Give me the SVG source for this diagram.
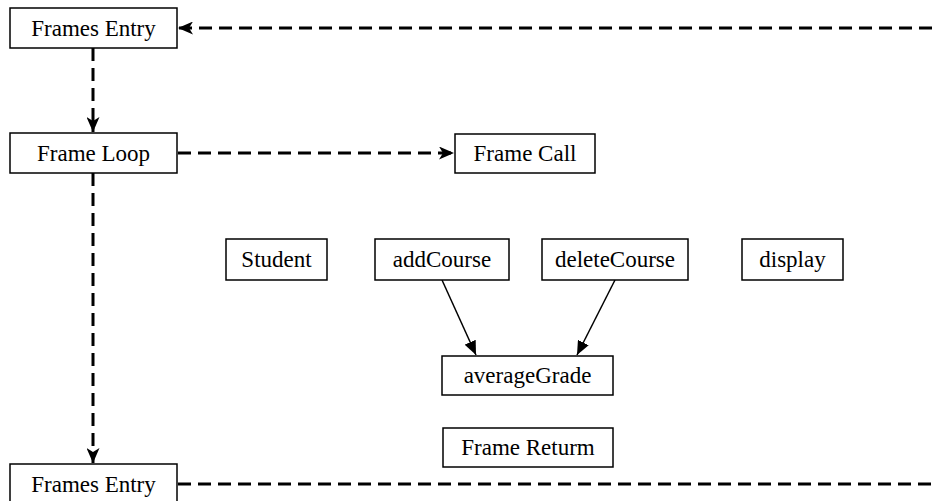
<svg xmlns="http://www.w3.org/2000/svg" width="932" height="501" viewBox="0 0 932 501">
<style>
.box{fill:#fff;stroke:#000;stroke-width:1.5}
.lbl{font-family:"Liberation Serif","Times New Roman",serif;font-size:23px;fill:#000;text-anchor:middle;dominant-baseline:central}
.dash{fill:none;stroke:#000;stroke-width:3;stroke-dasharray:13,7}
.solid{fill:none;stroke:#000;stroke-width:1.5}
</style>
<defs>
<marker id="ah" viewBox="0 0 15 13" refX="15" refY="6.5" markerWidth="15" markerHeight="13" markerUnits="userSpaceOnUse" orient="auto"><path d="M0,0 L15,6.5 L0,13 L4,6.5 Z" fill="#000"/></marker>
<marker id="ah2" viewBox="0 0 14 12" refX="14" refY="6" markerWidth="14" markerHeight="12" markerUnits="userSpaceOnUse" orient="auto"><path d="M0,0 L14,6 L0,12 Z" fill="#000"/></marker>
</defs>
<g id="connectors">
<path class="dash" d="M932,28 L178,28" marker-end="url(#ah)"/>
<path class="dash" d="M93,48 L93,132" marker-end="url(#ah)"/>
<path class="dash" d="M178,153 L454,153" marker-end="url(#ah)"/>
<path class="dash" d="M93,173 L93,463" marker-end="url(#ah)"/>
<path class="dash" d="M178,484 L932,484"/>
<path class="solid" d="M442,280 L476,355" marker-end="url(#ah2)"/>
<path class="solid" d="M615,280 L577,355" marker-end="url(#ah2)"/>
</g>
<g id="frames-entry-top"><rect class="box" x="10" y="8" width="167" height="40"/><text class="lbl" x="93.5" y="28">Frames Entry</text></g>
<g id="frame-loop"><rect class="box" x="10" y="133" width="167" height="40"/><text class="lbl" x="93.5" y="153">Frame Loop</text></g>
<g id="frame-call"><rect class="box" x="455" y="134" width="140" height="39"/><text class="lbl" x="525" y="153.5">Frame Call</text></g>
<g id="student"><rect class="box" x="226" y="239" width="101" height="41"/><text class="lbl" x="276.5" y="259.5">Student</text></g>
<g id="addCourse"><rect class="box" x="375" y="239" width="134" height="41"/><text class="lbl" x="442" y="259.5">addCourse</text></g>
<g id="deleteCourse"><rect class="box" x="542" y="239" width="146" height="41"/><text class="lbl" x="615" y="259.5">deleteCourse</text></g>
<g id="display"><rect class="box" x="742" y="239" width="101" height="41"/><text class="lbl" x="792.5" y="259.5">display</text></g>
<g id="averageGrade"><rect class="box" x="442" y="356" width="171" height="39"/><text class="lbl" x="527.5" y="375.5">averageGrade</text></g>
<g id="frame-return"><rect class="box" x="443" y="428" width="170" height="39"/><text class="lbl" x="528" y="447.5">Frame Returm</text></g>
<g id="frames-entry-bottom"><rect class="box" x="10" y="464" width="167" height="40"/><text class="lbl" x="93.5" y="484">Frames Entry</text></g>
</svg>
